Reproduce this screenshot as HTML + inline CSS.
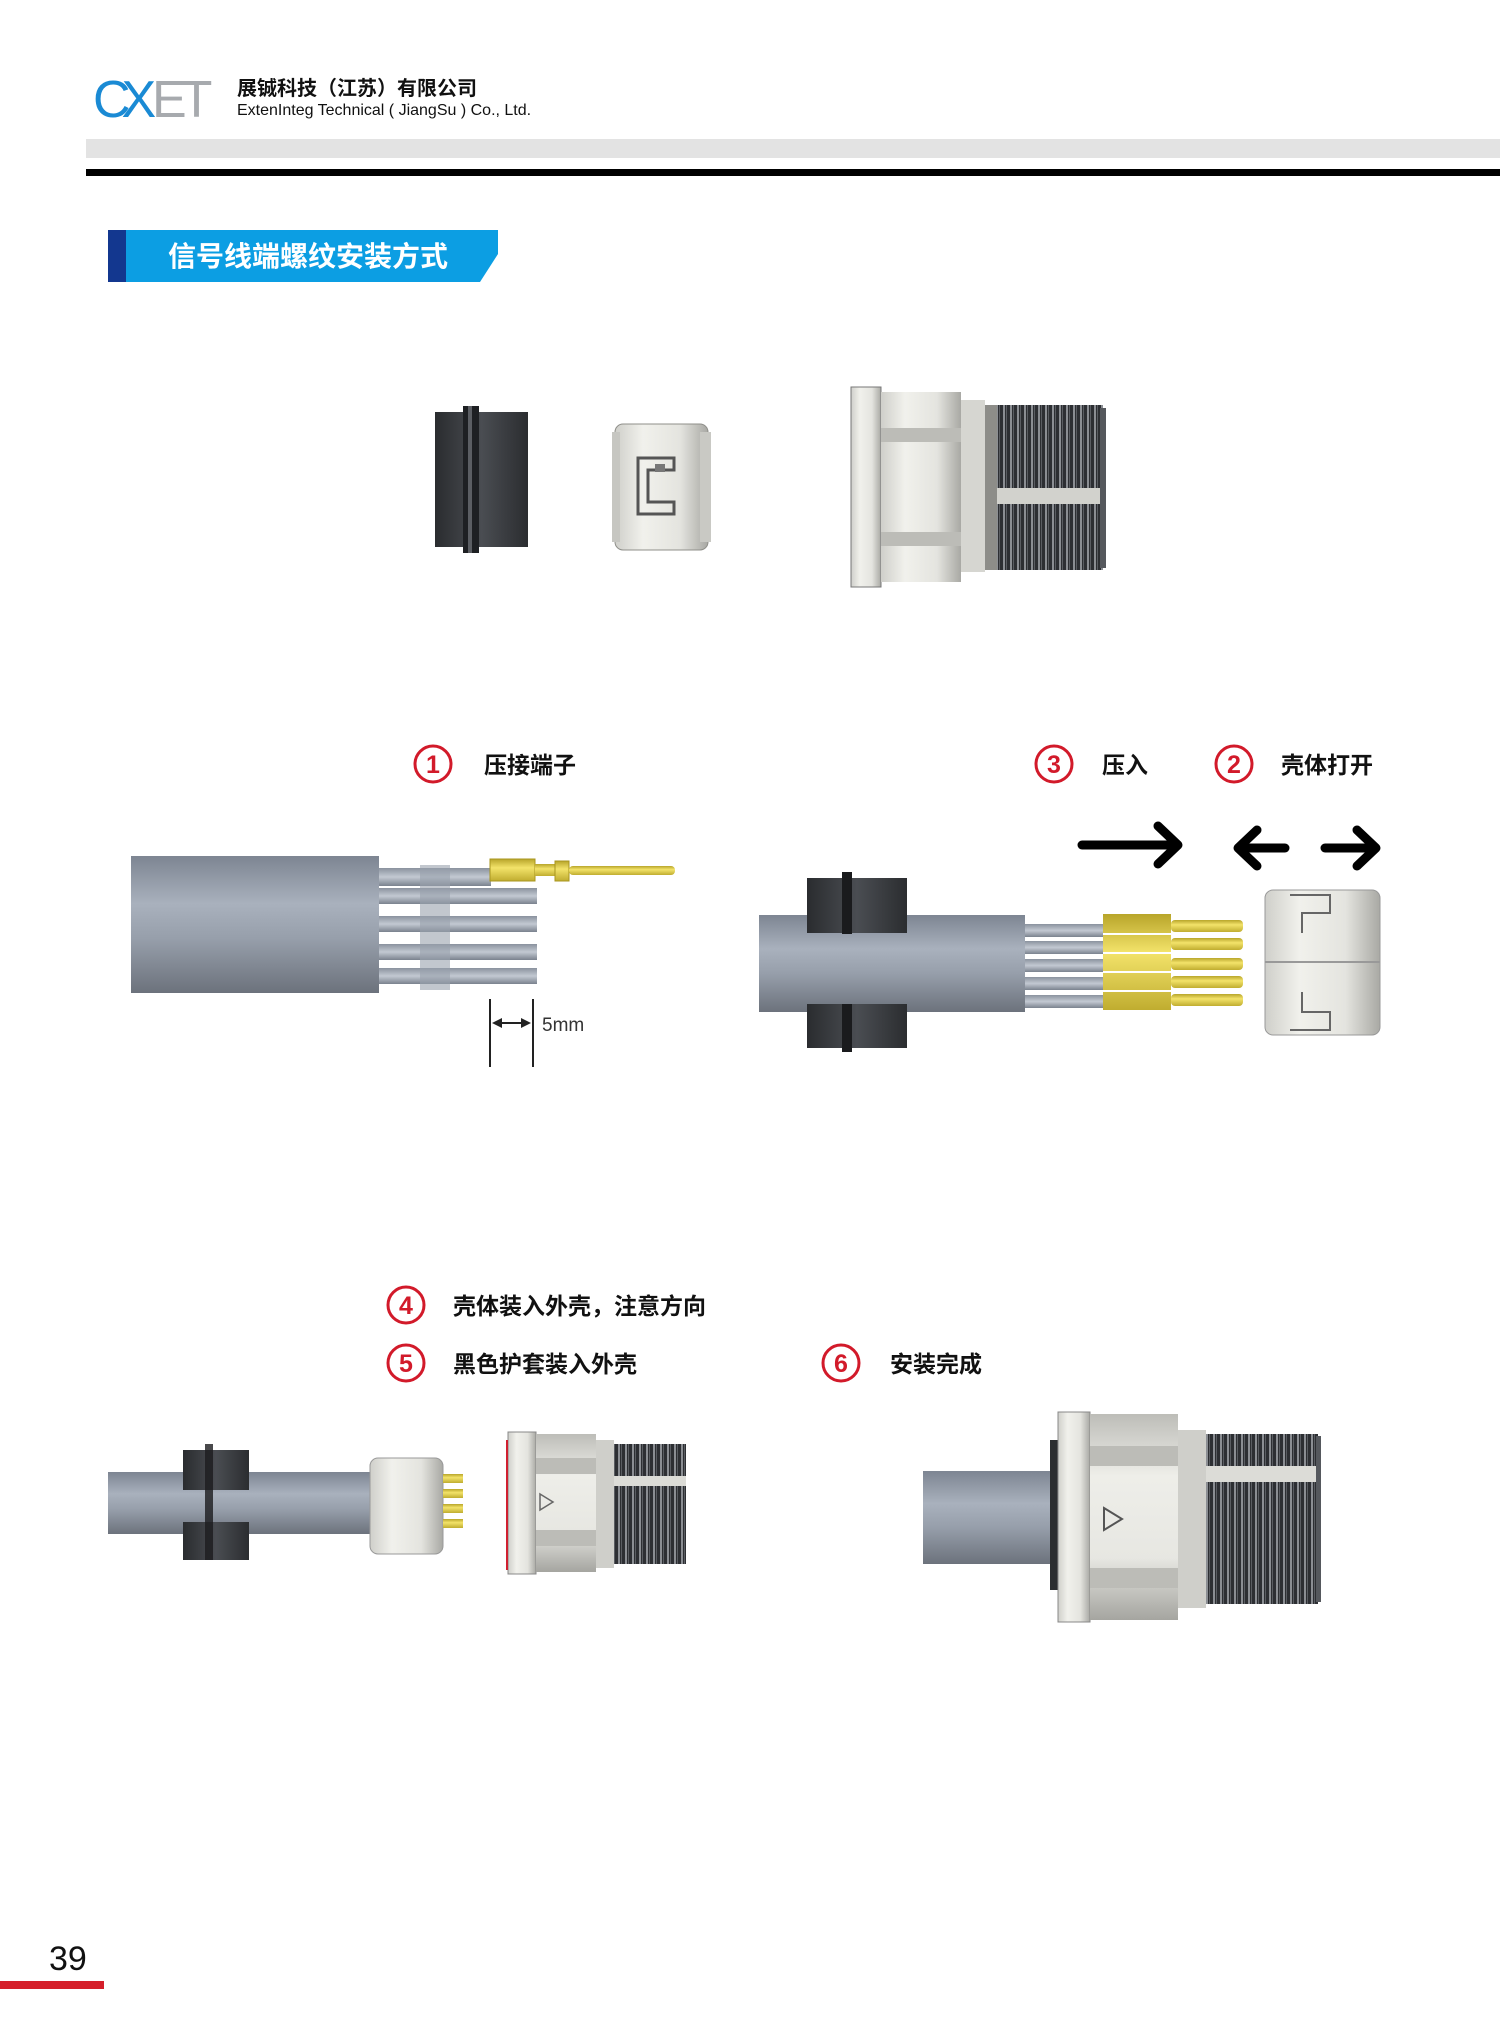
<!DOCTYPE html>
<html><head><meta charset="utf-8"><style>
html,body{margin:0;padding:0;background:#fff;}
body{width:1500px;height:2035px;overflow:hidden;position:relative;font-family:"Liberation Sans","Noto Sans CJK SC",sans-serif;}
svg{position:absolute;left:0;top:0;}
</style></head><body>
<svg width="1500" height="2035" viewBox="0 0 1500 2035" xmlns="http://www.w3.org/2000/svg" font-family="Liberation Sans, Noto Sans CJK SC, sans-serif">
<defs>
<linearGradient id="cab" x1="0" y1="0" x2="0" y2="1">
<stop offset="0" stop-color="#7d8592"/><stop offset="0.35" stop-color="#a9b1bd"/><stop offset="0.6" stop-color="#979fab"/><stop offset="1" stop-color="#6c727c"/></linearGradient>
<linearGradient id="blk" x1="0" y1="0" x2="1" y2="0">
<stop offset="0" stop-color="#2a2c2f"/><stop offset="0.5" stop-color="#4a4d52"/><stop offset="1" stop-color="#2b2d30"/></linearGradient>
<linearGradient id="wht" x1="0" y1="0" x2="1" y2="0">
<stop offset="0" stop-color="#cfcfca"/><stop offset="0.3" stop-color="#f1f1ec"/><stop offset="0.7" stop-color="#e4e4df"/><stop offset="1" stop-color="#a9a9a4"/></linearGradient>
<linearGradient id="whtv" x1="0" y1="0" x2="0" y2="1">
<stop offset="0" stop-color="#bdbdb8"/><stop offset="0.3" stop-color="#eeeee9"/><stop offset="0.7" stop-color="#e7e7e2"/><stop offset="1" stop-color="#a5a5a0"/></linearGradient>
<linearGradient id="yel" x1="0" y1="0" x2="0" y2="1">
<stop offset="0" stop-color="#b8a52a"/><stop offset="0.4" stop-color="#f3e36a"/><stop offset="1" stop-color="#c0ad30"/></linearGradient>
<linearGradient id="wire" x1="0" y1="0" x2="0" y2="1">
<stop offset="0" stop-color="#8a929e"/><stop offset="0.5" stop-color="#c3c9d2"/><stop offset="1" stop-color="#7a828e"/></linearGradient>
<pattern id="thr" width="7" height="10" patternUnits="userSpaceOnUse">
<rect width="7" height="10" fill="#2d2f33"/><rect x="2" width="2" height="10" fill="#8b8e93"/><rect x="5" width="1" height="10" fill="#5a5d62"/></pattern>
</defs>

<!-- Header -->
<text x="93" y="117" font-size="52" fill="#1a8ad4" letter-spacing="-9">CX</text>
<text x="152" y="117" font-size="52" fill="#a7aaae" letter-spacing="-6">ET</text>
<text x="237" y="95" font-size="20" font-weight="bold" fill="#111">展铖科技（江苏）有限公司</text>
<text x="237" y="115" font-size="16" fill="#111">ExtenInteg Technical ( JiangSu ) Co., Ltd.</text>
<rect x="86" y="139" width="1414" height="19" fill="#e3e3e3"/>
<rect x="86" y="169" width="1414" height="7" fill="#000"/>

<!-- Title banner -->
<polygon points="108,230 498,230 498,254 480,282 108,282" fill="#0c9ee3"/>
<rect x="108" y="230" width="18" height="52" fill="#13378f"/>
<text x="168" y="266" font-size="28" font-weight="bold" fill="#fff">信号线端螺纹安装方式</text>

<!-- Top parts: black sleeve -->
<rect x="435" y="412" width="93" height="135" fill="url(#blk)"/>
<rect x="463" y="406" width="16" height="147" fill="#1e2023"/>
<rect x="468" y="406" width="4" height="147" fill="#5b5e63"/>
<!-- insert -->
<rect x="615" y="424" width="93" height="126" rx="8" fill="url(#wht)" stroke="#8f8f8a"/>
<rect x="612" y="432" width="8" height="110" fill="#c6c6c1"/>
<rect x="700" y="432" width="11" height="110" fill="#c9c9c4"/>
<path d="M638,458 h36 v12 h-26 v32 h26 v12 h-36 z" fill="none" stroke="#555" stroke-width="3"/>
<rect x="655" y="464" width="10" height="8" fill="#777"/>
<!-- big connector -->
<rect x="851" y="387" width="30" height="200" fill="url(#wht)" stroke="#777"/>
<rect x="881" y="392" width="80" height="190" fill="url(#wht)"/>
<rect x="881" y="428" width="80" height="14" fill="#bcbcb7"/>
<rect x="881" y="532" width="80" height="14" fill="#bcbcb7"/>
<rect x="961" y="400" width="24" height="172" fill="#d6d6d1"/>
<rect x="985" y="405" width="12" height="165" fill="#8d8d89"/>
<rect x="997" y="405" width="106" height="165" fill="url(#thr)"/>
<rect x="997" y="488" width="106" height="16" fill="#d2d2cd"/>
<rect x="1100" y="408" width="6" height="160" fill="#55585d"/>

<!-- Step labels -->
<g font-size="23" font-weight="bold">
<circle cx="433" cy="764" r="18" fill="none" stroke="#d21a2a" stroke-width="3"/>
<text x="433" y="773" font-size="25" fill="#d21a2a" text-anchor="middle">1</text>
<text x="484" y="773" fill="#111">压接端子</text>
<circle cx="1054" cy="764" r="18" fill="none" stroke="#d21a2a" stroke-width="3"/>
<text x="1054" y="773" font-size="25" fill="#d21a2a" text-anchor="middle">3</text>
<text x="1102" y="773" fill="#111">压入</text>
<circle cx="1234" cy="764" r="18" fill="none" stroke="#d21a2a" stroke-width="3"/>
<text x="1234" y="773" font-size="25" fill="#d21a2a" text-anchor="middle">2</text>
<text x="1281" y="773" fill="#111">壳体打开</text>
<circle cx="406" cy="1305" r="18" fill="none" stroke="#d21a2a" stroke-width="3"/>
<text x="406" y="1314" font-size="25" fill="#d21a2a" text-anchor="middle">4</text>
<text x="453" y="1314" fill="#111">壳体装入外壳，注意方向</text>
<circle cx="406" cy="1363" r="18" fill="none" stroke="#d21a2a" stroke-width="3"/>
<text x="406" y="1372" font-size="25" fill="#d21a2a" text-anchor="middle">5</text>
<text x="453" y="1372" fill="#111">黑色护套装入外壳</text>
<circle cx="841" cy="1363" r="18" fill="none" stroke="#d21a2a" stroke-width="3"/>
<text x="841" y="1372" font-size="25" fill="#d21a2a" text-anchor="middle">6</text>
<text x="890" y="1372" fill="#111">安装完成</text>
</g>

<!-- Arrows -->
<g stroke="#000" stroke-width="9" fill="none" stroke-linecap="round" stroke-linejoin="round">
<line x1="1082" y1="845" x2="1175" y2="845"/><polyline points="1158,826 1178,845 1158,864"/>
<line x1="1240" y1="848" x2="1285" y2="848"/><polyline points="1257,830 1238,848 1257,866"/>
<line x1="1325" y1="848" x2="1374" y2="848"/><polyline points="1357,830 1376,848 1357,866"/>
</g>

<!-- Step 1 cable -->
<rect x="131" y="856" width="248" height="137" fill="url(#cab)"/>
<g>
<rect x="379" y="868" width="112" height="18" fill="url(#wire)"/>
<rect x="379" y="888" width="158" height="16" fill="url(#wire)"/>
<rect x="379" y="916" width="158" height="16" fill="url(#wire)"/>
<rect x="379" y="944" width="158" height="16" fill="url(#wire)"/>
<rect x="379" y="968" width="158" height="16" fill="url(#wire)"/>
<rect x="420" y="865" width="30" height="125" fill="#9aa2ad" opacity="0.6"/>
</g>
<rect x="490" y="859" width="45" height="22" fill="url(#yel)" stroke="#a8951e"/>
<rect x="535" y="864" width="20" height="12" fill="url(#yel)"/>
<rect x="555" y="861" width="14" height="20" fill="url(#yel)" stroke="#a8951e"/>
<rect x="569" y="866" width="106" height="9" rx="4" fill="url(#yel)"/>
<line x1="490" y1="999" x2="490" y2="1067" stroke="#222" stroke-width="2"/>
<line x1="533" y1="999" x2="533" y2="1067" stroke="#222" stroke-width="2"/>
<line x1="494" y1="1023" x2="529" y2="1023" stroke="#222" stroke-width="2"/>
<polygon points="492,1023 502,1018 502,1028" fill="#222"/><polygon points="531,1023 521,1018 521,1028" fill="#222"/>
<text x="542" y="1031" font-size="19" fill="#333">5mm</text>

<!-- Step 2/3 -->
<rect x="759" y="915" width="266" height="97" fill="url(#cab)"/>
<rect x="807" y="878" width="100" height="55" fill="url(#blk)"/>
<rect x="842" y="872" width="10" height="62" fill="#1a1b1d"/>
<rect x="807" y="1004" width="100" height="44" fill="url(#blk)"/>
<rect x="842" y="1004" width="10" height="48" fill="#1a1b1d"/>
<g>
<rect x="1025" y="924" width="80" height="13" fill="url(#wire)"/>
<rect x="1025" y="941" width="80" height="13" fill="url(#wire)"/>
<rect x="1025" y="959" width="80" height="13" fill="url(#wire)"/>
<rect x="1025" y="977" width="80" height="13" fill="url(#wire)"/>
<rect x="1025" y="995" width="80" height="13" fill="url(#wire)"/>
</g>
<g>
<rect x="1103" y="914" width="68" height="96" fill="url(#yel)"/>
<rect x="1171" y="920" width="72" height="12" rx="4" fill="url(#yel)"/>
<rect x="1171" y="938" width="72" height="12" rx="4" fill="url(#yel)"/>
<rect x="1171" y="958" width="72" height="12" rx="4" fill="url(#yel)"/>
<rect x="1171" y="976" width="72" height="12" rx="4" fill="url(#yel)"/>
<rect x="1171" y="994" width="72" height="12" rx="4" fill="url(#yel)"/>
<line x1="1103" y1="934" x2="1171" y2="934" stroke="#fff" stroke-width="2"/>
<line x1="1103" y1="953" x2="1171" y2="953" stroke="#fff" stroke-width="2"/>
<line x1="1103" y1="972" x2="1171" y2="972" stroke="#fff" stroke-width="2"/>
<line x1="1103" y1="991" x2="1171" y2="991" stroke="#fff" stroke-width="2"/>
</g>
<rect x="1265" y="890" width="115" height="145" rx="8" fill="url(#wht)" stroke="#999"/>
<path d="M1290,895 h40 v18 h-28 v20 M1290,1030 h40 v-18 h-28 v-20" fill="none" stroke="#666" stroke-width="2"/>
<line x1="1265" y1="962" x2="1380" y2="962" stroke="#999" stroke-width="2"/>

<!-- Step 4/5 -->
<rect x="108" y="1472" width="268" height="62" fill="url(#cab)"/>
<rect x="183" y="1450" width="66" height="40" fill="url(#blk)"/>
<rect x="183" y="1522" width="66" height="38" fill="url(#blk)"/>
<rect x="205" y="1444" width="8" height="116" fill="#1b1c1e" opacity="0.8"/>
<rect x="376" y="1480" width="30" height="48" fill="url(#wire)"/>
<rect x="370" y="1458" width="73" height="96" rx="8" fill="url(#wht)" stroke="#999"/>
<rect x="443" y="1474" width="20" height="9" fill="url(#yel)"/>
<rect x="443" y="1489" width="20" height="9" fill="url(#yel)"/>
<rect x="443" y="1504" width="20" height="9" fill="url(#yel)"/>
<rect x="443" y="1519" width="20" height="9" fill="url(#yel)"/>
<rect x="508" y="1432" width="28" height="142" fill="url(#wht)" stroke="#888"/>
<line x1="507" y1="1440" x2="507" y2="1570" stroke="#d02030" stroke-width="2"/>
<rect x="536" y="1434" width="60" height="138" fill="url(#whtv)"/>
<rect x="536" y="1458" width="60" height="16" fill="#bcbcb7"/>
<rect x="536" y="1530" width="60" height="16" fill="#bcbcb7"/>
<polygon points="540,1494 553,1502 540,1510" fill="none" stroke="#666" stroke-width="1.5"/>
<rect x="596" y="1440" width="18" height="128" fill="#cfcfca"/>
<rect x="614" y="1444" width="72" height="120" fill="url(#thr)"/>
<rect x="614" y="1476" width="72" height="10" fill="#dcdcd7"/>

<!-- Step 6 -->
<rect x="923" y="1471" width="135" height="93" fill="url(#cab)"/>
<rect x="1050" y="1440" width="10" height="150" fill="#2b2d30"/>
<rect x="1058" y="1412" width="32" height="210" fill="url(#wht)" stroke="#888"/>
<rect x="1090" y="1414" width="88" height="206" fill="url(#whtv)"/>
<rect x="1090" y="1446" width="88" height="20" fill="#bcbcb7"/>
<rect x="1090" y="1568" width="88" height="20" fill="#bcbcb7"/>
<polygon points="1104,1508 1122,1519 1104,1530" fill="none" stroke="#555" stroke-width="2"/>
<rect x="1178" y="1430" width="28" height="178" fill="#cfcfca"/>
<rect x="1206" y="1434" width="112" height="170" fill="url(#thr)"/>
<rect x="1206" y="1466" width="112" height="16" fill="#dcdcd7"/>
<rect x="1316" y="1436" width="5" height="166" fill="#55585d"/>

<!-- Page number -->
<text x="49" y="1970" font-size="34" fill="#111">39</text>
<rect x="0" y="1981" width="104" height="8" fill="#d51f2a"/>
</svg>
</body></html>
